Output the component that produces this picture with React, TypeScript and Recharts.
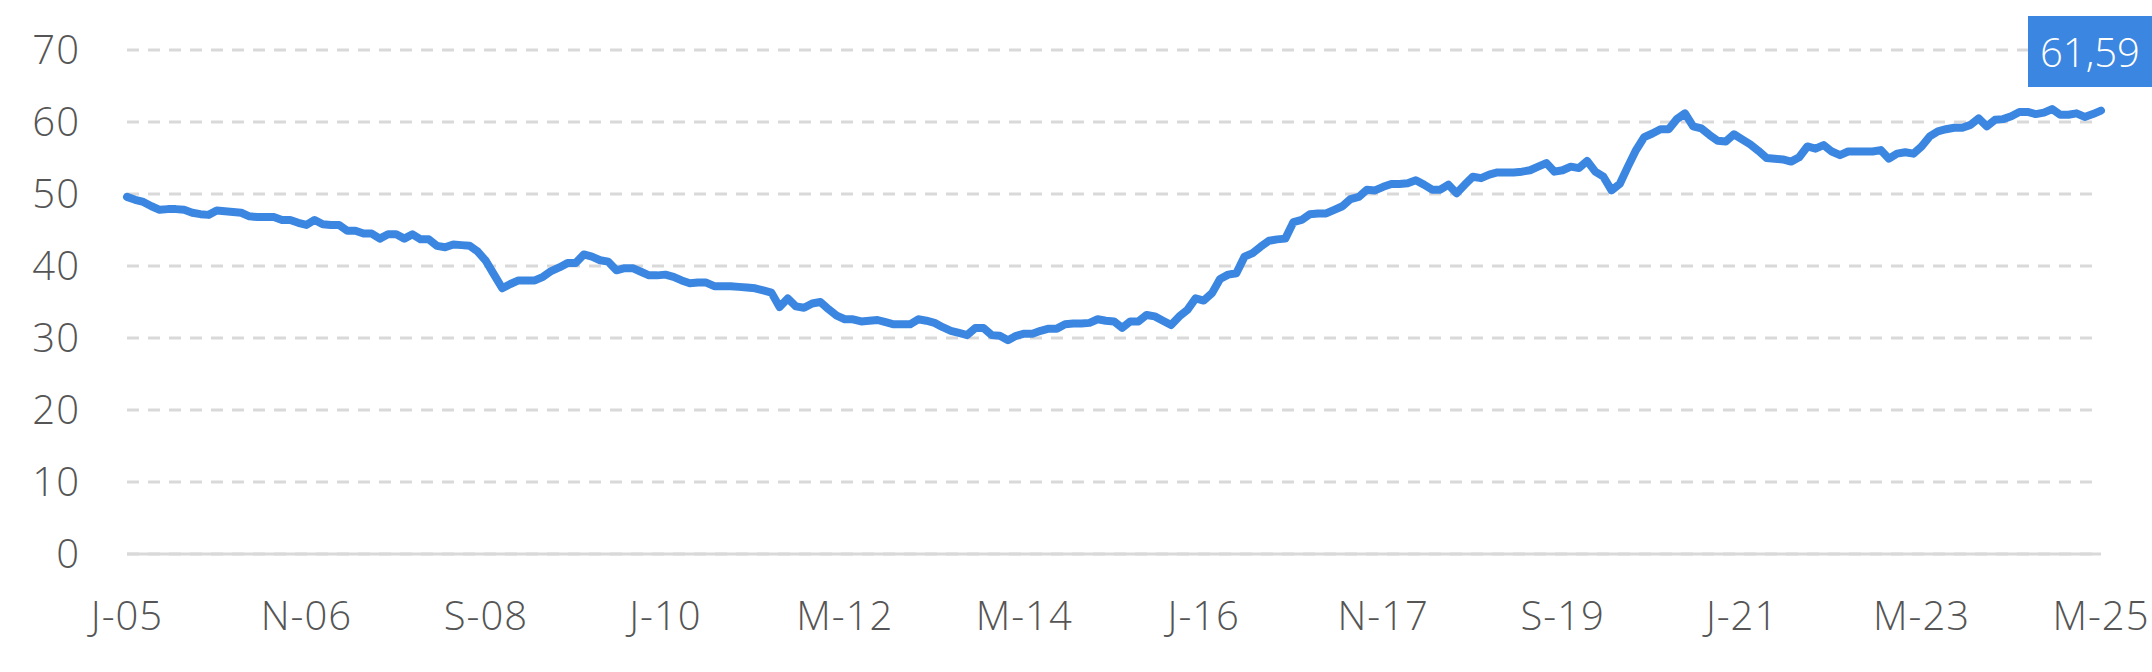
import { LineChart, Line, XAxis, YAxis, CartesianGrid } from "recharts"

document.body.style.margin = "0"

// monthly index values, Jan 2005 - Mar 2025
const values2005 = [49.6, 49.2, 48.9, 48.3, 47.8, 47.9, 47.9, 47.8, 47.4, 47.2, 47.1, 47.7]
const values2006 = [47.6, 47.5, 47.4, 46.9, 46.8, 46.8, 46.8, 46.4, 46.4, 46.0, 45.7, 46.4]
const values2007 = [45.8, 45.7, 45.7, 44.9, 44.9, 44.5, 44.5, 43.8, 44.4, 44.4, 43.8, 44.4]
const values2008 = [43.7, 43.7, 42.8, 42.6, 43.0, 42.9, 42.8, 42.0, 40.7, 38.8, 36.9, 37.5]
const values2009 = [38.0, 38.0, 38.0, 38.5, 39.3, 39.8, 40.4, 40.4, 41.6, 41.3, 40.8, 40.6]
const values2010 = [39.4, 39.7, 39.7, 39.2, 38.7, 38.7, 38.8, 38.5, 38.0, 37.6, 37.7, 37.7]
const values2011 = [37.2, 37.2, 37.2, 37.1, 37.0, 36.9, 36.6, 36.3, 34.3, 35.5, 34.4, 34.2]
const values2012 = [34.8, 35.0, 34.0, 33.1, 32.6, 32.6, 32.3, 32.4, 32.5, 32.2, 31.9, 31.9]
const values2013 = [31.9, 32.6, 32.4, 32.1, 31.5, 31.0, 30.7, 30.4, 31.4, 31.4, 30.4, 30.3]
const values2014 = [29.7, 30.3, 30.6, 30.6, 31.0, 31.3, 31.3, 31.9, 32.0, 32.0, 32.1, 32.6]
const values2015 = [32.4, 32.3, 31.4, 32.3, 32.3, 33.2, 33.0, 32.4, 31.8, 33.0, 33.9, 35.5]
const values2016 = [35.2, 36.2, 38.2, 38.8, 39.0, 41.3, 41.8, 42.7, 43.5, 43.7, 43.8, 46.1]
const values2017 = [46.4, 47.2, 47.3, 47.3, 47.8, 48.3, 49.3, 49.6, 50.6, 50.5, 51.0, 51.4]
const values2018 = [51.4, 51.5, 51.9, 51.3, 50.6, 50.6, 51.3, 50.1, 51.3, 52.4, 52.2, 52.7]
const values2019 = [53.0, 53.0, 53.0, 53.1, 53.3, 53.8, 54.3, 53.1, 53.3, 53.8, 53.6, 54.6]
const values2020 = [53.1, 52.4, 50.5, 51.4, 53.8, 56.1, 57.9, 58.4, 59.0, 59.0, 60.4, 61.2]
const values2021 = [59.4, 59.1, 58.2, 57.4, 57.3, 58.3, 57.6, 56.9, 56.0, 55.0, 54.9, 54.8]
const values2022 = [54.5, 55.1, 56.6, 56.3, 56.8, 55.9, 55.4, 55.9, 55.9, 55.9, 55.9, 56.1]
const values2023 = [54.9, 55.6, 55.8, 55.6, 56.6, 58.0, 58.7, 59.0, 59.2, 59.2, 59.6, 60.5]
const values2024 = [59.4, 60.3, 60.4, 60.8, 61.4, 61.4, 61.1, 61.3, 61.8, 61.0, 61.0, 61.2]
const values2025 = [60.7, 61.1, 61.59]

const yearlyValues = [
  values2005, values2006, values2007, values2008, values2009, values2010, values2011,
  values2012, values2013, values2014, values2015, values2016, values2017, values2018,
  values2019, values2020, values2021, values2022, values2023, values2024, values2025,
]

const monthInitials = ["J", "F", "M", "A", "M", "J", "J", "A", "S", "O", "N", "D"]
const yTicks = [0, 10, 20, 30, 40, 50, 60, 70]

const data = yearlyValues.flatMap((vals, y) =>
  vals.map((value, m) => ({
    month: `${monthInitials[m]}-${String(5 + y).padStart(2, "0")}`,
    value,
  }))
)

const lastValue = data[data.length - 1].value
const blue = "#3b86e0"
const textColor = "#555555"
const font = "'Open Sans', sans-serif"
const tickStyle = { fill: textColor, fontSize: 40, fontFamily: font, fontWeight: 300, letterSpacing: 1 }

export default function App() {
  return (
    <div style={{ position: "relative", width: 2152, height: 672, background: "#fff" }}>
      <LineChart
        width={2152}
        height={672}
        data={data}
        margin={{ top: 50, right: 51, left: 27, bottom: 0 }}
      >
        <CartesianGrid vertical={false} stroke="#d9d9d9" strokeWidth={3} strokeDasharray="12 9" />
        <XAxis
          dataKey="month"
          interval={21}
          height={118}
          tickLine={false}
          tickSize={0}
          tickMargin={48}
          axisLine={{ stroke: "#d9d9d9", strokeWidth: 3 }}
          tick={tickStyle}
        />
        <YAxis
          domain={[0, 70]}
          ticks={yTicks}
          width={100}
          axisLine={false}
          tickLine={false}
          tickSize={0}
          tickMargin={47}
          tick={tickStyle}
        />
        <Line
          type="linear"
          dataKey="value"
          stroke={blue}
          strokeWidth={8}
          dot={false}
          strokeLinejoin="round"
          strokeLinecap="round"
          isAnimationActive={false}
        />
      </LineChart>
      <div
        style={{
          position: "absolute",
          left: 2028,
          top: 16,
          width: 124,
          height: 71,
          background: blue,
          color: "#fff",
          fontFamily: font,
          fontWeight: 300,
          fontSize: 40,
          display: "flex",
          alignItems: "center",
          justifyContent: "center",
        }}
      >
        {lastValue.toFixed(2).replace(".", ",")}
      </div>
    </div>
  )
}
